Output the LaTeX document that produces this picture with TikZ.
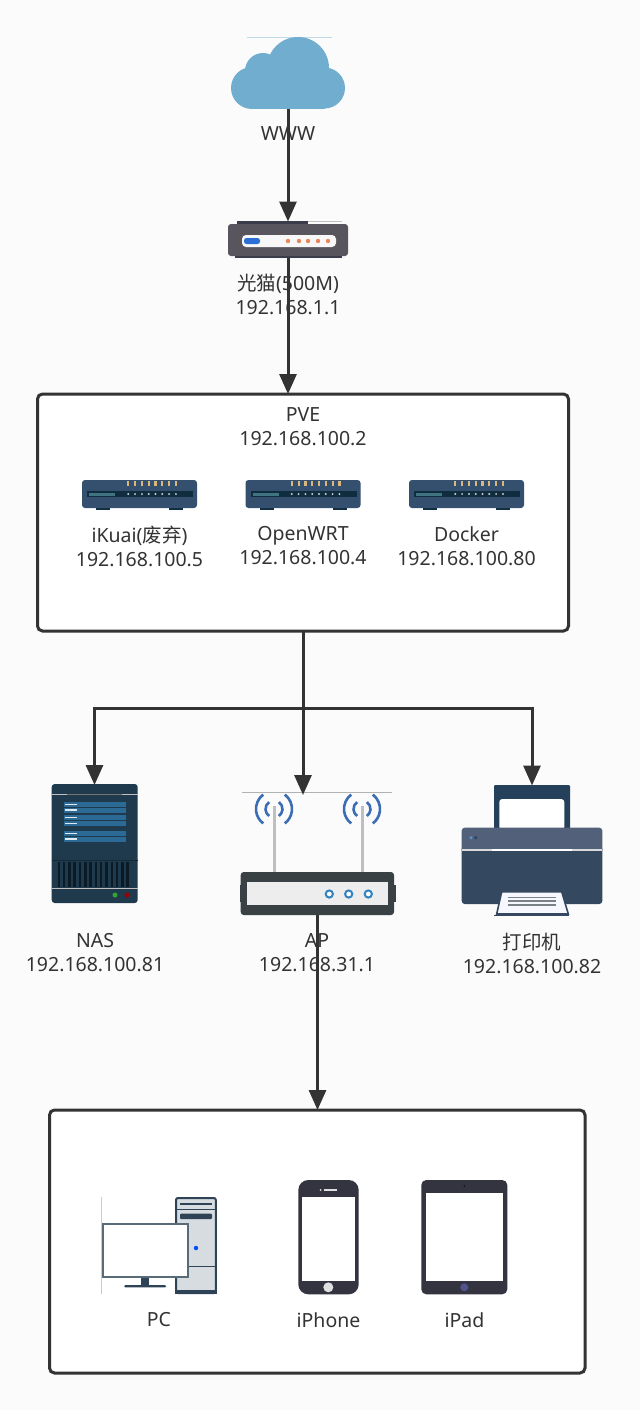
\documentclass[tikz,border=0pt]{standalone}
\usepackage{fontspec}
\setmainfont{Noto Sans}
\newfontfamily\cjk{Noto Sans CJK SC}
\usetikzlibrary{arrows.meta,calc}
\definecolor{bgc}{HTML}{FBFBFB}
\definecolor{ink}{HTML}{333333}
\definecolor{cloudc}{HTML}{71ADCF}
\definecolor{modemc}{HTML}{59555E}
\definecolor{modemd}{HTML}{3A3B4B}
\definecolor{modemblue}{HTML}{2B6FD6}
\definecolor{modemdot}{HTML}{E8855A}
\definecolor{srvc}{HTML}{34506E}
\definecolor{srvd}{HTML}{102D3F}
\definecolor{srvled}{HTML}{D9B77E}
\definecolor{srvstrip}{HTML}{3F7480}
\definecolor{nasc}{HTML}{1F3A4D}
\definecolor{naspanel}{HTML}{2A6A94}
\definecolor{apc}{HTML}{3A4145}
\definecolor{waveblue}{HTML}{3B6DB5}
\definecolor{prnback}{HTML}{24405A}
\definecolor{prntop}{HTML}{536079}
\definecolor{prnbody}{HTML}{34495F}
\definecolor{towerc}{HTML}{D6DCE0}
\definecolor{towerd}{HTML}{2F4356}
\definecolor{monc}{HTML}{5A6B78}
\definecolor{phonec}{HTML}{33343F}
\newcommand{\serverIcon}[1]{%
\begin{scope}[shift={(#1,0)}]
\fill[srvd] (96,505) rectangle (110,510);
\fill[srvd] (169,505) rectangle (183,510);
\fill[srvc,rounded corners=3pt] (82,480) rectangle (197,508);
\fill[srvd] (87,491) rectangle (193,497);
\fill[srvstrip] (89,492.5) rectangle (115,495.5);
\foreach \i in {0,...,7}{
\fill[srvled] ({128.3+6.8*\i-1.1},481) rectangle ({128.3+6.8*\i+1.1},486);
\fill[white!80!black] ({128.3+6.8*\i},494) circle (1.1pt);
}
\end{scope}}
\newcommand{\antennaIcon}[1]{%
\draw[line width=3pt,color=black!25] (#1,806) -- (#1,873);
\draw[line width=2.6pt,color=waveblue] ([shift={(127:18pt)}]#1,809) arc[start angle=127,end angle=233,radius=18pt];
\draw[line width=2.6pt,color=waveblue] ([shift={(125:8.5pt)}]#1,809) arc[start angle=125,end angle=235,radius=8.5pt];
\draw[line width=2.6pt,color=waveblue] ([shift={(53:18pt)}]#1,809) arc[start angle=53,end angle=-53,radius=18pt];
\draw[line width=2.6pt,color=waveblue] ([shift={(55:8.5pt)}]#1,809) arc[start angle=55,end angle=-55,radius=8.5pt];
}
\tikzset{
 lbl/.style={align=center,text=ink,font=\fontsize{19.5}{24}\selectfont,inner sep=0pt,outer sep=0pt},
 groupbox/.style={draw=ink,line width=3pt,fill=white,rounded corners=5pt,inner sep=0pt,outer sep=0pt},
 iconbox/.style={inner sep=0pt,outer sep=0pt},
 link/.style={draw=ink,line width=3pt},
 linkarrow/.style={link,-{Triangle[length=20pt,width=17pt,color=ink]}}
}
\begin{document}
\begin{tikzpicture}[x=1pt,y=-1pt]
\useasboundingbox (0,0) rectangle (640,1410);
\fill[bgc] (0,0) rectangle (640,1410);

% group boxes
\node[groupbox,minimum width=531pt,minimum height=237pt] (pve) at (303,512.5) {};
\node[groupbox,minimum width=535.5pt,minimum height=263pt] (lan) at (317.25,1241.5) {};

% icon anchors
\node[iconbox,minimum width=114pt,minimum height=72pt] (cloud) at (288,73) {};
\node[iconbox,minimum width=120pt,minimum height=36pt] (modem) at (288,239.5) {};
\node[iconbox,minimum width=115pt,minimum height=30pt] (ikuai) at (139.5,495) {};
\node[iconbox,minimum width=115pt,minimum height=30pt] (openwrt) at (303,495) {};
\node[iconbox,minimum width=115pt,minimum height=30pt] (docker) at (466.5,495) {};
\node[iconbox,minimum width=86pt,minimum height=118pt] (nas) at (94.5,844) {};
\node[iconbox,minimum width=153pt,minimum height=120pt] (ap) at (317.5,855) {};
\node[iconbox,minimum width=140pt,minimum height=129pt] (printer) at (532,850) {};
\node[iconbox,minimum width=115pt,minimum height=97pt] (pc) at (159,1245.5) {};
\node[iconbox,minimum width=60pt,minimum height=114pt] (iphone) at (328.5,1237) {};
\node[iconbox,minimum width=86pt,minimum height=114pt] (ipad) at (464.3,1237) {};

% cloud
\draw[cloudc!45,line width=.6pt] (247,37) -- (332,37);
\fill[cloudc] (298,68) circle (31pt) (263,71) circle (18pt) (252,88) circle (21pt) (324.5,88) circle (20.5pt);
\fill[cloudc] (252,72) rectangle (325,109);

% modem
\draw[black!25,line width=.8pt] (308,221) -- (342,221);
\fill[modemd] (237,221) rectangle (308,226);
\fill[modemd] (235,254) rectangle (342,257.5);
\fill[modemc,rounded corners=3pt] (228,224) rectangle (348,256);
\fill[black!3,rounded corners=4pt] (242,235) rectangle (336,247);
\fill[modemblue,rounded corners=2.5pt] (244,238) rectangle (260,244);
\foreach \x in {288,299,308,318,328}{\fill[modemdot] (\x,241) circle (2.2pt);}

% servers
\serverIcon{0}
\serverIcon{163.5}
\serverIcon{327}

% NAS
\fill[nasc,rounded corners=3pt] (51.7,784) rectangle (137.7,903);
\fill[black!25] (51.7,793.5) rectangle (137.7,794.8);
\fill[black!55] (67,793.5) rectangle (122,794.8);
\foreach \ya/\yb in {801.7/813,815/826,831/841.7}{
\fill[naspanel] (64,\ya) rectangle (125.7,\yb);
\fill[nasc] (64,{(\ya+\yb)/2-.4}) rectangle (125.7,{(\ya+\yb)/2+.4});
}
\foreach \y in {804.5,810,817.5,823.3,833.5,839}{\fill[white!85!naspanel] (65,\y-.8) rectangle (77,\y+.8);}
\fill[nasc!70!black] (51.7,859.5) rectangle (137.7,861);
\foreach \i in {0,...,13}{\fill[black!40!srvd] ({57.5+5.3*\i},862) rectangle ({60+5.3*\i},887);}
\fill[black!25] (51.7,888) rectangle (137.7,889.3);
\fill[green!55!black!80!white] (115,895) circle (2.5pt);
\fill[red!60!black] (127,895) circle (2.5pt);

% AP
\draw[black!30,line width=.7pt] (242,792.5) -- (392,792.5);
\antennaIcon{274}
\antennaIcon{362}
\fill[apc] (239.5,885) rectangle (395.5,902);
\fill[apc,rounded corners=3pt] (240.7,872) rectangle (394,915);
\fill[black!7] (246.7,882) rectangle (388.3,905);
\foreach \x in {329.3,348.7,368.3}{\draw[waveblue!85!cyan,line width=2pt,fill=white] (\x,894) circle (3.6pt);}

% printer
\fill[prnback,rounded corners=1pt] (494,785) rectangle (570,830);
\fill[white,rounded corners=3pt] (499.3,799) rectangle (564.3,830);
\fill[prntop,rounded corners=3pt] (461.7,827.7) rectangle (602.3,853);
\fill[prnbody,rounded corners=3pt] (461.7,846) rectangle (602.3,904);
\fill[prntop] (461.7,846) rectangle (602.3,849);
\fill[black!15] (461.7,849) rectangle (602.3,850.5);
\fill[white] (492,849) rectangle (572,850.5);
\draw[prnbody,line width=1.6pt,fill=black!5!blue!3!white] (501.7,891.7) -- (561.7,891.7) -- (568.3,914) -- (496.7,914) -- cycle;
\draw[prnbody,line width=1pt] (494,915) -- (569,915);
\foreach \y in {897.3,901,905}{\draw[black!40!prnbody!60!white,line width=1.2pt] (508,\y) -- (556,\y);}
\fill[cyan!60!blue!70!white] (471,837.7) circle (1.6pt);
\fill[prnback] (475.7,837.7) circle (1.6pt);

% PC
\draw[black!20,line width=.6pt] (101.3,1197) -- (101.3,1294);
\draw[towerd,line width=2pt,fill=towerc,rounded corners=2pt] (176,1198) rectangle (215.8,1293);
\fill[towerd] (175,1290) rectangle (216.8,1294);
\fill[towerd] (176,1208.5) rectangle (215.8,1209.8);
\fill[towerd] (180,1203) rectangle (212,1205);
\fill[towerd,rounded corners=1pt] (180,1213.5) rectangle (212,1219);
\fill[towerd] (176,1266) rectangle (215.8,1267.3);
\fill[blue!70!cyan] (196,1248) circle (2.2pt);
\fill[towerd] (141,1277) rectangle (149.3,1286);
\fill[towerd,rounded corners=1pt] (124.3,1285) rectangle (166,1287.3);
\draw[monc,line width=2pt,fill=white] (103,1224) rectangle (188,1277);

% iPhone
\fill[phonec,rounded corners=10pt] (298.3,1180) rectangle (358.7,1294.3);
\fill[white] (302.3,1196.7) rectangle (355,1280.7);
\fill[black!12] (324,1189.3) rectangle (337,1190.8);
\fill[black!12] (320.7,1190) circle (1pt);
\fill[black!12] (328.3,1287.3) circle (5pt);

% iPad
\fill[phonec,rounded corners=5pt] (421.3,1180) rectangle (507.3,1294.3);
\fill[white] (426,1192.7) rectangle (502.7,1281);
\fill[black!60!phonec] (464.3,1186) circle (1pt);
\fill[phonec!75!blue!80!white] (464.3,1287.3) circle (4pt);

% labels
\node[lbl] (twww) at (288,134) {WWW};
\node[lbl] (tmodem) at (288,294) {{\cjk 光猫}(500M)\\192.168.1.1};
\node[lbl] (tpve) at (303,427) {PVE\\192.168.100.2};
\node[lbl] (tikuai) at (139.5,546) {iKuai({\cjk 废弃})\\192.168.100.5};
\node[lbl] (topenwrt) at (303,546) {OpenWRT\\192.168.100.4};
\node[lbl] (tdocker) at (466.5,546) {Docker\\192.168.100.80};
\node[lbl] (tnas) at (95,953) {NAS\\192.168.100.81};
\node[lbl] (tap) at (317,953) {AP\\192.168.31.1};
\node[lbl] (tprinter) at (532,953) {{\cjk 打印机}\\192.168.100.82};
\node[lbl] (tpc) at (159,1320) {PC};
\node[lbl] (tiphone) at (328.5,1320) {iPhone};
\node[lbl] (tipad) at (464.5,1320) {iPad};

% connectors
\coordinate (bus) at (303,708);
\draw[linkarrow] (cloud.south) -- (modem.north);
\draw[linkarrow] (modem.south) -- (modem.south |- pve.north);
\draw[linkarrow] (pve.south) -- (bus) -| (nas.north);
\draw[linkarrow] (pve.south) -- (pve.south |- ap.north);
\draw[linkarrow] (bus) -| (printer.north);
\draw[linkarrow] (ap.south) -- (ap.south |- lan.north);
\end{tikzpicture}
\end{document}
